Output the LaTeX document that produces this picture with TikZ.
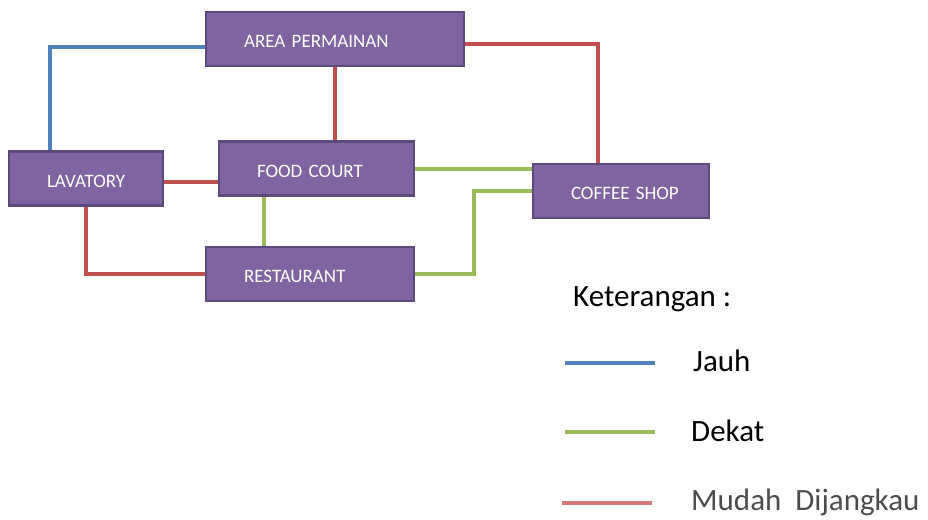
\documentclass[tikz,border=0pt]{standalone}
\usepackage{fontspec}
\setmainfont{Carlito}
\usetikzlibrary{backgrounds,calc,positioning}
\definecolor{boxfill}{HTML}{8064A2}
\definecolor{boxline}{HTML}{5C4A7D}
\definecolor{jauhcol}{HTML}{4F81BD}
\definecolor{dekatcol}{HTML}{9BBB59}
\definecolor{mudahcol}{HTML}{C0504D}
\definecolor{mudahkey}{HTML}{D57877}
\tikzset{
    site map/.style  = {x=1pt, y=-1pt},
    room/.style      = {draw=boxline, line width=2.5pt, fill=boxfill,
                        text=white, font=\fontsize{19}{21}\selectfont,
                        align=left, inner xsep=38pt, minimum height=#1,
                        text height=20pt, text depth=3pt},
    room/.default    = 54pt,
    link/.style      = {line width=4pt},
    jauh/.style      = {link, draw=jauhcol},
    dekat/.style     = {link, draw=dekatcol},
    mudah/.style     = {link, draw=mudahcol},
    key text/.style  = {anchor=west, inner sep=0pt,
                        font=\fontsize{31}{35}\selectfont}
}
\begin{document}
\begin{tikzpicture}[site map]
\useasboundingbox (0,0) rectangle (928,519);

\node[room, text width=182pt] (area)     at (335,39)    {AREA~PERMAINAN};
\node[room, text width=78pt]  (lavatory) at (86,178.5)  {LAVATORY};
\node[room, text width=119pt] (food)     at (316.5,168.5) {FOOD~COURT};
\node[room, text width=132pt] (resto)    at (310,274)   {RESTAURANT};
\node[room, text width=100pt] (coffee)   at (621,191)   {COFFEE~SHOP};

\begin{scope}[on background layer]
    \draw[jauh]  ([yshift=-8pt]area.west) -| ([xshift=-36pt]lavatory.north);
    \draw[mudah] (area.south) -- (area.south |- food.north);
    \draw[mudah] ([yshift=-5pt]area.east) -| ([xshift=-23pt]coffee.north);
    \draw[mudah] ([yshift=-3.5pt]lavatory.east)
        -- ([yshift=-3.5pt]lavatory.east -| food.west);
    \draw[mudah] (lavatory.south) |- (resto.west);
    \draw[dekat] ([xshift=-52.5pt]food.south)
        -- ([xshift=-52.5pt]food.south |- resto.north);
    \draw[dekat] (food.east) -- (food.east -| coffee.west);
    \draw[dekat] (resto.east) -- ++(59,0) |- (coffee.west);
\end{scope}

% keterangan
\node[key text] (ket) at (573,299) {Keterangan\ :};
\coordinate (jauhA) at (565,363);  \coordinate (jauhB) at (655,363);
\coordinate (dekatA) at (565,432); \coordinate (dekatB) at (655,432);
\coordinate (mudahA) at (562,503); \coordinate (mudahB) at (652,503);
\draw[jauh]  (jauhA) -- (jauhB);
\draw[dekat] (dekatA) -- (dekatB);
\draw[link, draw=mudahkey] (mudahA) -- (mudahB);
\node[key text] (jauhlbl)  at (693,361) {Jauh};
\node[key text] (dekatlbl) at (691,431) {Dekat};
\node[key text, text=black!70] (mudahlbl) at (691,502) {Mudah\ \ Dijangkau};

\end{tikzpicture}
\end{document}
